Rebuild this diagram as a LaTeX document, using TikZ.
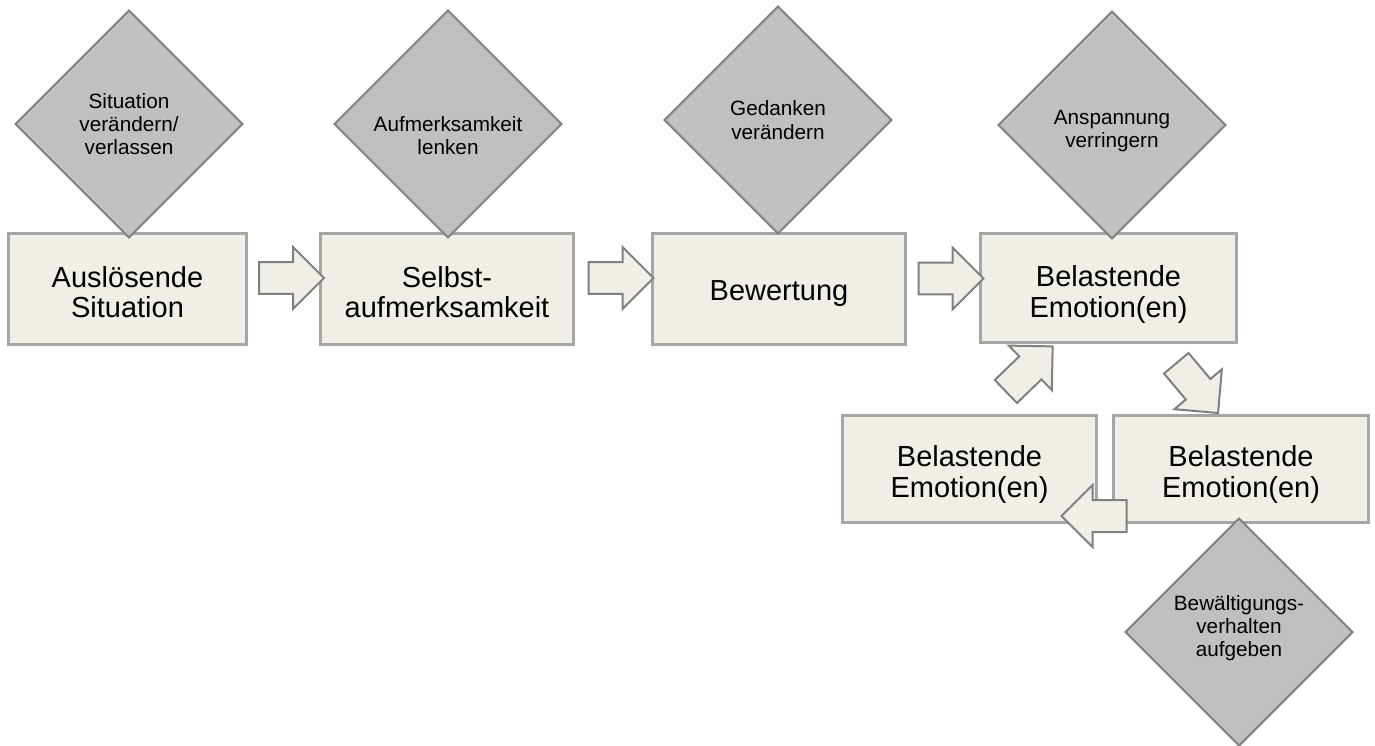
\documentclass[tikz,border=0pt]{standalone}
\usepackage{fontspec}
\setmainfont{Liberation Sans}
\usetikzlibrary{shapes.geometric,shapes.arrows,calc}

\definecolor{boxfill}{HTML}{F0EEE7}
\definecolor{boxline}{HTML}{A6A6A6}
\definecolor{diafill}{HTML}{C0C0C0}
\definecolor{dialine}{HTML}{808080}

\tikzset{
  stufe/.style={draw=boxline, fill=boxfill, line width=0.06cm, minimum height=2.22cm,
    align=center, font=\fontsize{16.5}{17.5}\selectfont},
  strategie/.style={diamond, aspect=1, draw=dialine, fill=diafill, line width=0.04cm,
    minimum size=4.56cm, inner sep=0pt, align=center, font=\fontsize{11.8}{13.2}\selectfont},
  pfeil/.style={single arrow, draw=dialine, fill=boxfill, line width=0.04cm,
    minimum height=1.3cm, inner xsep=0pt, inner ysep=0.3cm, single arrow head extend=0.3cm}
}

\begin{document}
\begin{tikzpicture}[x=0.02cm, y=0.02cm]
  \useasboundingbox (0,0) rectangle (1375,745);

  % Kette der Stufen
  \node[stufe, minimum width=4.78cm] (ausl) at (127.5,456) {\rule{0pt}{15.5pt}Auslösende\\Situation};
  \node[stufe, minimum width=5.08cm] (selbst) at (447,456) {\rule{0pt}{15.5pt}Selbst-\\aufmerksamkeit};
  \node[stufe, minimum width=5.08cm] (bew) at (779,456) {\rule{0pt}{16pt}Bewertung};
  \node[stufe, minimum width=5.14cm, minimum height=2.2cm] (emo) at (1108.5,457) {\rule{0pt}{19pt}Belastende\\Emotion(en)};
  \node[stufe, minimum width=5.1cm, minimum height=2.16cm] (emolinks) at (969.5,276) {\rule{0pt}{18pt}Belastende\\Emotion(en)};
  \node[stufe, minimum width=5.12cm, minimum height=2.16cm] (emorechts) at (1241,276) {\rule{0pt}{18pt}Belastende\\Emotion(en)};

  % Blockpfeile
  \node[pfeil] (p1) at ($(ausl.east)!0.5!(selbst.west)+(0,11)$) {};
  \node[pfeil] (p2) at ($(selbst.east)!0.5!(bew.west)+(0,11)$) {};
  \node[pfeil] (p3) at ($(bew.east)!0.5!(emo.west)+(0,10)$) {};
  \node[pfeil, rotate=-50] (p4) at (1192,363) {};
  \node[pfeil, rotate=180] (p5) at ($(emolinks.east)!0.5!(emorechts.west)+(-3,-47)$) {};
  \node[pfeil, rotate=44] (p6) at (1023.5,370.5) {};

  % Strategien
  \node[strategie] (d1) at (129,621) {Situation\\verändern/\\verlassen};
  \node[strategie] (d2) at (448,621) {\rule{0pt}{22pt}Aufmerksamkeit\\lenken};
  \node[strategie] (d3) at (778,625) {Gedanken\\verändern};
  \node[strategie] (d4) at (1112,620) {\rule{0pt}{15pt}Anspannung\\verringern};
  \node[strategie] (d5) at (1239,113) {Bewältigungs-\\verhalten\\aufgeben\rule[-7pt]{0pt}{0pt}};
\end{tikzpicture}
\end{document}
